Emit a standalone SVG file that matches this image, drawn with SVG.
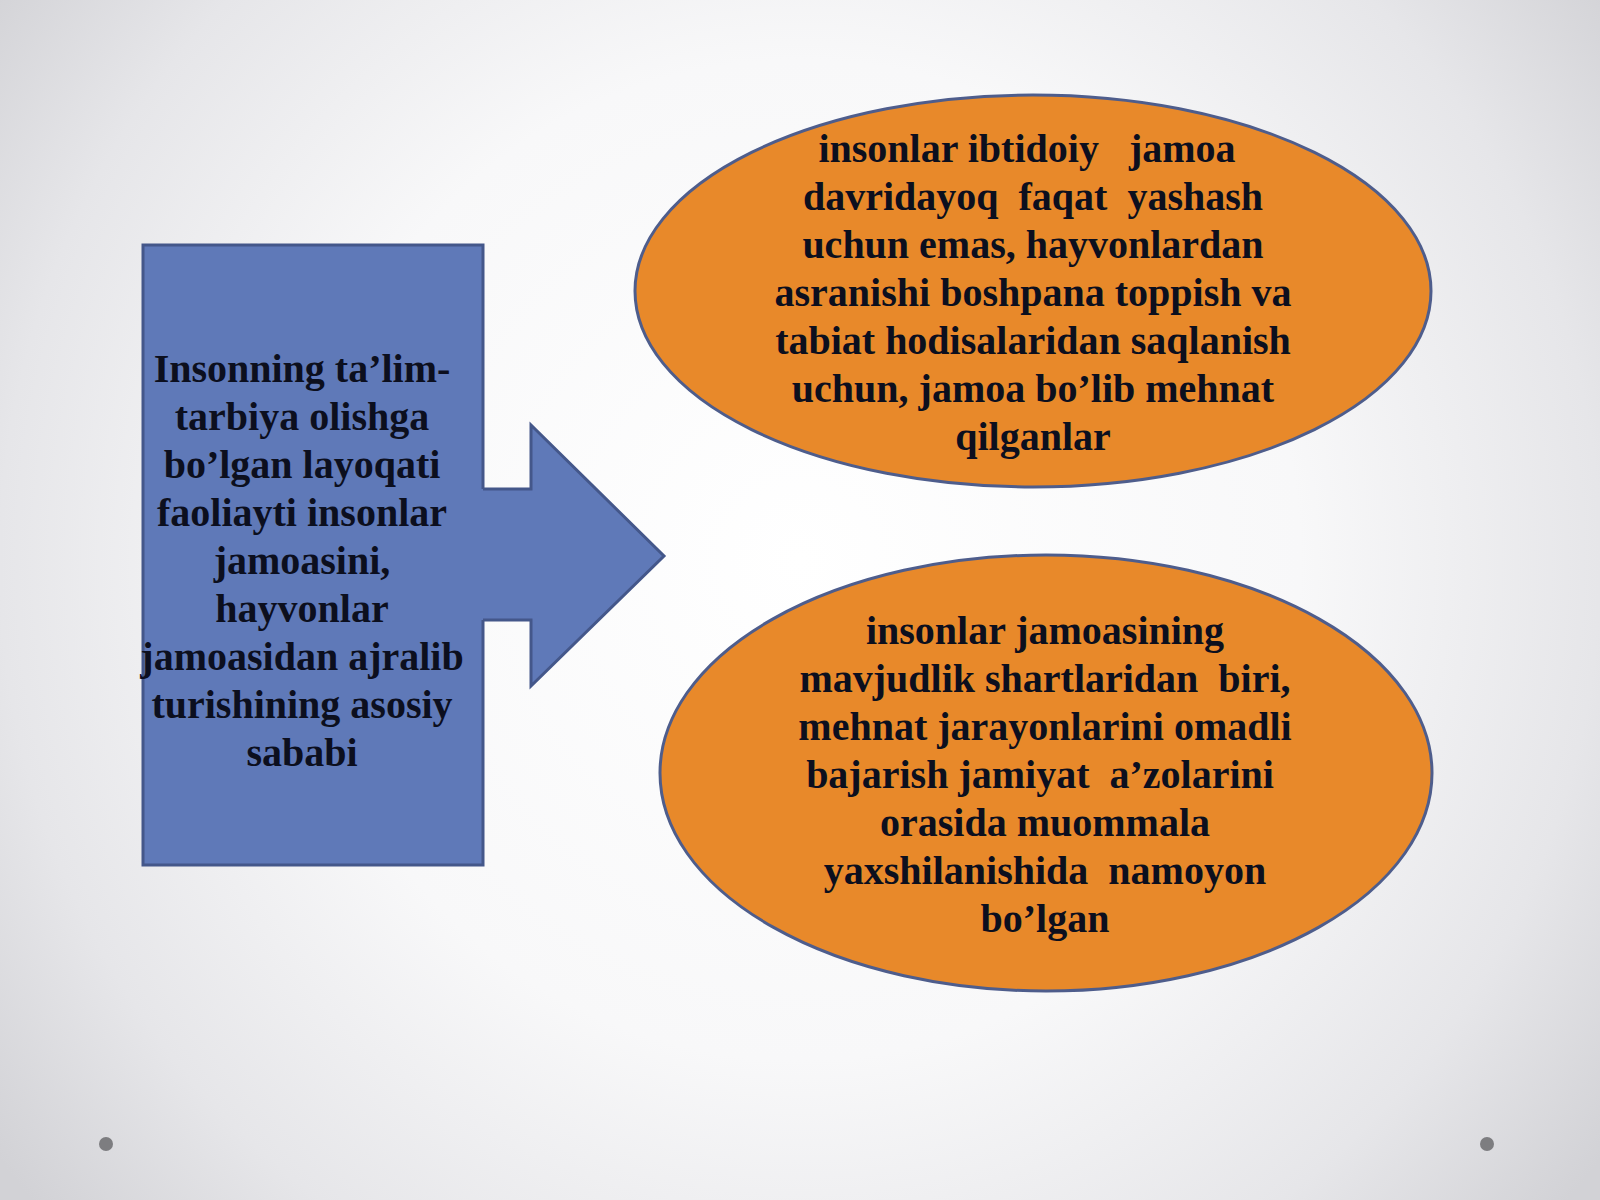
<svg xmlns="http://www.w3.org/2000/svg" width="1600" height="1200" viewBox="0 0 1600 1200">
<defs>
<radialGradient id="bg" cx="800" cy="560" r="1000" gradientUnits="userSpaceOnUse">
<stop offset="0" stop-color="#ffffff"/>
<stop offset="0.5" stop-color="#f8f8f9"/>
<stop offset="0.8" stop-color="#e6e6e9"/>
<stop offset="1" stop-color="#d2d2d6"/>
</radialGradient>
</defs>
<style>
.t{font-family:"Liberation Serif","Times New Roman",serif;font-weight:bold;font-size:40px;fill:#0c0f1e;text-anchor:middle;white-space:pre}
.blue{fill:#5f79b8}
.ell{fill:#e8892a;stroke:#4e5d8c;stroke-width:3}
</style>
<rect x="0" y="0" width="1600" height="1200" fill="url(#bg)"/>
<circle cx="106" cy="1144" r="7" fill="#7d7d80"/>
<circle cx="1487" cy="1144" r="7" fill="#7d7d80"/>

<g id="node-left">
<rect x="143" y="245" width="340" height="620" class="blue" stroke="#44578a" stroke-width="3"/>
</g>

<g id="connectors">
<polygon points="470,489 531,489 531,425 664,556 531,686 531,620 470,620" class="blue"/>
<polyline points="483,489 531,489 531,425 664,556 531,686 531,620 483,620" fill="none" stroke="#44578a" stroke-width="3" stroke-linejoin="miter"/>
</g>

<g id="node-left-text">
<text class="t" x="302" y="382">Insonning ta’lim-</text>
<text class="t" x="302" y="430">tarbiya olishga</text>
<text class="t" x="302" y="478">bo’lgan layoqati</text>
<text class="t" x="302" y="526">faoliayti insonlar</text>
<text class="t" x="302" y="574">jamoasini,</text>
<text class="t" x="302" y="622">hayvonlar</text>
<text class="t" x="302" y="670">jamoasidan ajralib</text>
<text class="t" x="302" y="718">turishining asosiy</text>
<text class="t" x="302" y="766">sababi</text>
</g>

<g id="node-top">
<ellipse cx="1033" cy="291" rx="398" ry="196" class="ell"/>
<text class="t" x="1027" y="162">insonlar ibtidoiy   jamoa</text>
<text class="t" x="1033" y="210">davridayoq  faqat  yashash</text>
<text class="t" x="1033" y="258">uchun emas, hayvonlardan</text>
<text class="t" x="1033" y="306">asranishi boshpana toppish va</text>
<text class="t" x="1033" y="354">tabiat hodisalaridan saqlanish</text>
<text class="t" x="1033" y="402">uchun, jamoa bo’lib mehnat</text>
<text class="t" x="1033" y="450">qilganlar</text>
</g>

<g id="node-bottom">
<ellipse cx="1046" cy="773" rx="386" ry="218" class="ell"/>
<text class="t" x="1045" y="644">insonlar jamoasining</text>
<text class="t" x="1045" y="692">mavjudlik shartlaridan  biri,</text>
<text class="t" x="1045" y="740">mehnat jarayonlarini omadli</text>
<text class="t" x="1040" y="788">bajarish jamiyat  a’zolarini</text>
<text class="t" x="1045" y="836">orasida muommala</text>
<text class="t" x="1045" y="884">yaxshilanishida  namoyon</text>
<text class="t" x="1045" y="932">bo’lgan</text>
</g>
</svg>
